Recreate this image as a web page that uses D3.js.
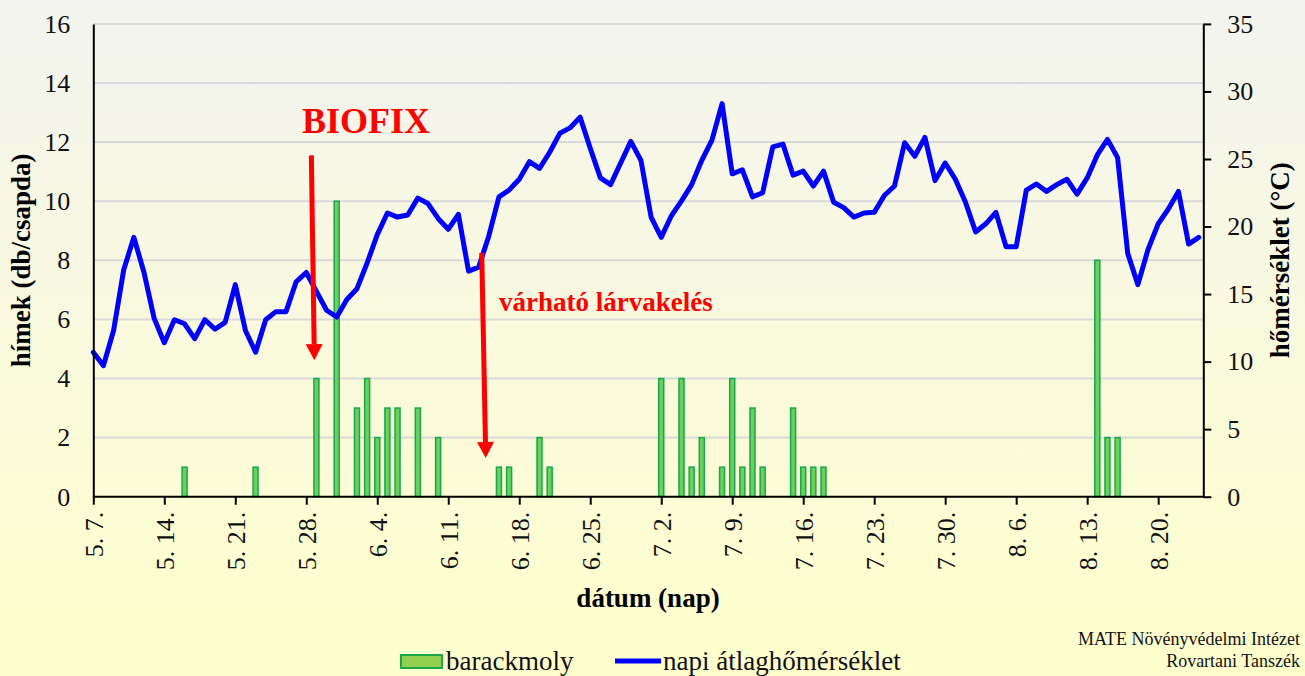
<!DOCTYPE html>
<html><head><meta charset="utf-8">
<script src="https://cdn.jsdelivr.net/npm/d3@7"></script>
<style>
html,body{margin:0;padding:0;}
svg{display:block;}
svg text{font-family:"Liberation Serif","Times New Roman",serif !important;}
</style></head>
<body>
<svg id="chart" width="1305" height="676"></svg>
<script>
const dates = [
"5. 7.","5. 8.","5. 9.","5. 10.","5. 11.","5. 12.","5. 13.","5. 14.","5. 15.","5. 16.","5. 17.","5. 18.","5. 19.","5. 20.","5. 21.","5. 22.","5. 23.","5. 24.","5. 25.","5. 26.","5. 27.","5. 28.","5. 29.","5. 30.","5. 31.",
"6. 1.","6. 2.","6. 3.","6. 4.","6. 5.","6. 6.","6. 7.","6. 8.","6. 9.","6. 10.","6. 11.","6. 12.","6. 13.","6. 14.","6. 15.","6. 16.","6. 17.","6. 18.","6. 19.","6. 20.","6. 21.","6. 22.","6. 23.","6. 24.","6. 25.","6. 26.","6. 27.","6. 28.","6. 29.","6. 30.",
"7. 1.","7. 2.","7. 3.","7. 4.","7. 5.","7. 6.","7. 7.","7. 8.","7. 9.","7. 10.","7. 11.","7. 12.","7. 13.","7. 14.","7. 15.","7. 16.","7. 17.","7. 18.","7. 19.","7. 20.","7. 21.","7. 22.","7. 23.","7. 24.","7. 25.","7. 26.","7. 27.","7. 28.","7. 29.","7. 30.","7. 31.",
"8. 1.","8. 2.","8. 3.","8. 4.","8. 5.","8. 6.","8. 7.","8. 8.","8. 9.","8. 10.","8. 11.","8. 12.","8. 13.","8. 14.","8. 15.","8. 16.","8. 17.","8. 18.","8. 19.","8. 20.","8. 21.","8. 22.","8. 23.","8. 24."
];
const tickLabels = ["5. 7.","5. 14.","5. 21.","5. 28.","6. 4.","6. 11.","6. 18.","6. 25.","7. 2.","7. 9.","7. 16.","7. 23.","7. 30.","8. 6.","8. 13.","8. 20."];
const barackmoly = [
0,0,0,0,0,0,0,0,0,1,
0,0,0,0,0,0,1,0,0,0,
0,0,4,0,10,0,3,4,2,3,
3,0,3,0,2,0,0,0,0,0,
1,1,0,0,2,1,0,0,0,0,
0,0,0,0,0,0,4,0,4,1,
2,0,1,4,1,3,1,0,0,3,
1,1,1,0,0,0,0,0,0,0,
0,0,0,0,0,0,0,0,0,0,
0,0,0,0,0,0,0,0,0,8,
2,2,0,0,0,0,0,0,0,0];
const homerseklet = [
10.7,9.7,12.3,16.8,19.2,16.6,13.2,11.4,13.1,12.8,
11.7,13.1,12.4,12.9,15.7,12.3,10.7,13.1,13.7,13.7,
15.9,16.6,15.2,13.8,13.3,14.6,15.4,17.3,19.4,21.0,
20.7,20.85,22.1,21.7,20.6,19.8,20.9,16.7,17.0,19.3,
22.2,22.7,23.5,24.8,24.3,25.5,26.9,27.3,28.1,25.8,
23.6,23.1,24.7,26.3,24.9,20.7,19.2,20.8,21.9,23.1,
24.9,26.4,29.1,23.9,24.2,22.2,22.5,25.9,26.1,23.8,
24.1,23.0,24.1,21.8,21.4,20.7,21.0,21.05,22.3,23.0,
26.2,25.2,26.6,23.4,24.7,23.5,21.8,19.6,20.2,21.05,
18.5,18.5,22.7,23.15,22.6,23.1,23.5,22.4,23.6,25.3,
26.45,25.1,18.0,15.7,18.3,20.2,21.3,22.6,18.7,19.2];
const leftTicks = [0,2,4,6,8,10,12,14,16];
const rightTicks = [0,5,10,15,20,25,30,35];
const seriesNames = ["barackmoly","napi átlaghőmérséklet"];
const axisTitles = {x:"dátum (nap)", left:"hímek (db/csapda)", right:"hőmérséklet (°C)"};
const annotations = [
  {text:"BIOFIX", x0:21.5, y0:11.55, x1:21.8, y1:4.62, tx:26.9, ty:12.3, size:36, anchor:"middle"},
  {text:"várható lárvakelés", x0:38.3, y0:8.25, x1:38.7, y1:1.31, tx:40.0, ty:6.3, size:27, anchor:"start"}
];
const credit = ["MATE Növényvédelmi Intézet","Rovartani Tanszék"];

const svg = d3.select("#chart");
const W = 1305, H = 676;
const M = {l:93.3, r:1203.3, t:23.9, b:496.7};

const defs = svg.append("defs");
const grad = defs.append("linearGradient").attr("id","bg").attr("x1",0).attr("y1",0).attr("x2",0).attr("y2",1);
grad.append("stop").attr("offset","0%").attr("stop-color","#f3f4ef");
grad.append("stop").attr("offset","100%").attr("stop-color","#ffffcc");
svg.append("rect").attr("width",W).attr("height",H).attr("fill","url(#bg)");

const x = d3.scaleLinear().domain([0, 109.45]).range([M.l, M.r]);
const yL = d3.scaleLinear().domain([0,16]).range([M.b, M.t]);
const yR = d3.scaleLinear().domain([0,35]).range([M.b, M.t]);

// gridlines
svg.append("g").selectAll("line").data(leftTicks.filter(d=>d>0)).join("line")
  .attr("x1",M.l).attr("x2",M.r).attr("y1",d=>yL(d)).attr("y2",d=>yL(d))
  .attr("stroke","#d9d9d9").attr("stroke-width",2);

// bars
const bw = 5;
svg.append("g").selectAll("rect").data(barackmoly.map((v,i)=>({v,i})).filter(d=>d.v>0)).join("rect")
  .attr("x",d=>x(d.i)-bw/2).attr("width",bw)
  .attr("y",d=>yL(d.v)).attr("height",d=>yL(0)-yL(d.v))
  .attr("fill","#6ccf5e").attr("stroke","#18a84a").attr("stroke-width",1.5);

// line
const line = d3.line().x((d,i)=>x(i)).y(d=>yR(d));
svg.append("path").datum(homerseklet).attr("d",line)
  .attr("fill","none").attr("stroke","#0000ff").attr("stroke-width",5)
  .attr("stroke-linejoin","round").attr("stroke-linecap","round");

// axes
const fs = 26;
const xAxis = d3.axisBottom(x).tickValues(tickLabels.map(t=>dates.indexOf(t)))
  .tickFormat(d=>dates[d]).tickSize(8).tickSizeOuter(0);
const gx = svg.append("g").attr("transform",`translate(0,${M.b})`).call(xAxis);
gx.select(".domain").attr("d",`M${M.l},0H${M.r}`).attr("stroke","#000").attr("stroke-width",2);
gx.selectAll(".tick line").attr("stroke","#000").attr("stroke-width",2);
gx.selectAll(".tick text").attr("font-size",fs).attr("fill","#111")
  .attr("text-anchor","end").attr("transform","rotate(-90)")
  .attr("x",-15).attr("y",0).attr("dy","0.35em");

const gl = svg.append("g").attr("transform",`translate(${M.l},0)`)
  .call(d3.axisLeft(yL).tickValues(leftTicks).tickSize(0).tickPadding(23).tickFormat(d3.format("d")));
gl.select(".domain").attr("stroke","#000").attr("stroke-width",2);
gl.selectAll(".tick text").attr("font-size",fs).attr("fill","#111");

const gr = svg.append("g").attr("transform",`translate(${M.r},0)`)
  .call(d3.axisRight(yR).tickValues(rightTicks).tickSize(8).tickPadding(16).tickSizeOuter(0).tickFormat(d3.format("d")));
gr.select(".domain").attr("stroke","#000").attr("stroke-width",2);
gr.selectAll(".tick line").attr("stroke","#000").attr("stroke-width",2);
gr.selectAll(".tick text").attr("font-size",fs).attr("fill","#111");

// axis titles
svg.append("text").attr("x",648).attr("y",607).attr("text-anchor","middle")
  .attr("font-size",27).attr("font-weight","bold").attr("fill","#000").text(axisTitles.x);
svg.append("text").attr("transform",`translate(30,${(M.t+M.b)/2}) rotate(-90)`).attr("text-anchor","middle")
  .attr("font-size",27).attr("font-weight","bold").attr("fill","#000").text(axisTitles.left);
svg.append("text").attr("transform",`translate(1289,${(M.t+M.b)/2}) rotate(-90)`).attr("text-anchor","middle")
  .attr("font-size",27).attr("font-weight","bold").attr("fill","#000").text(axisTitles.right);

// annotations
annotations.forEach(a=>{
  const X0=x(a.x0), Y0=yL(a.y0), X1=x(a.x1), Y1=yL(a.y1);
  const head=16, hw=8.5;
  const ang=Math.atan2(Y1-Y0,X1-X0);
  const bx=X1-head*Math.cos(ang), by=Y1-head*Math.sin(ang);
  svg.append("line").attr("x1",X0).attr("y1",Y0).attr("x2",bx).attr("y2",by)
    .attr("stroke","#ff0000").attr("stroke-width",5);
  const px=-Math.sin(ang), py=Math.cos(ang);
  svg.append("path").attr("d",`M${X1},${Y1}L${bx+px*hw},${by+py*hw}L${bx-px*hw},${by-py*hw}Z`).attr("fill","#ff0000");
  svg.append("text").attr("x",x(a.tx)).attr("y",yL(a.ty)).attr("text-anchor",a.anchor)
    .attr("font-size",a.size).attr("font-weight","bold").attr("fill","#ff0000").text(a.text);
});

// legend
const lg = svg.append("g");
lg.append("rect").attr("x",401).attr("y",655).attr("width",41).attr("height",13)
  .attr("fill","#92d050").attr("stroke","#18a84a").attr("stroke-width",2);
lg.append("text").attr("x",446).attr("y",670).attr("font-size",27).attr("fill","#111").text(seriesNames[0]);
lg.append("line").attr("x1",615).attr("x2",661).attr("y1",661).attr("y2",661)
  .attr("stroke","#0000ff").attr("stroke-width",5);
lg.append("text").attr("x",663).attr("y",670).attr("font-size",27).attr("fill","#111").text(seriesNames[1]);

// credit
svg.append("text").attr("x",1300).attr("y",645).attr("text-anchor","end").attr("font-size",18).attr("fill","#111").text(credit[0]);
svg.append("text").attr("x",1300).attr("y",667).attr("text-anchor","end").attr("font-size",18).attr("fill","#111").text(credit[1]);
</script>
</body></html>
